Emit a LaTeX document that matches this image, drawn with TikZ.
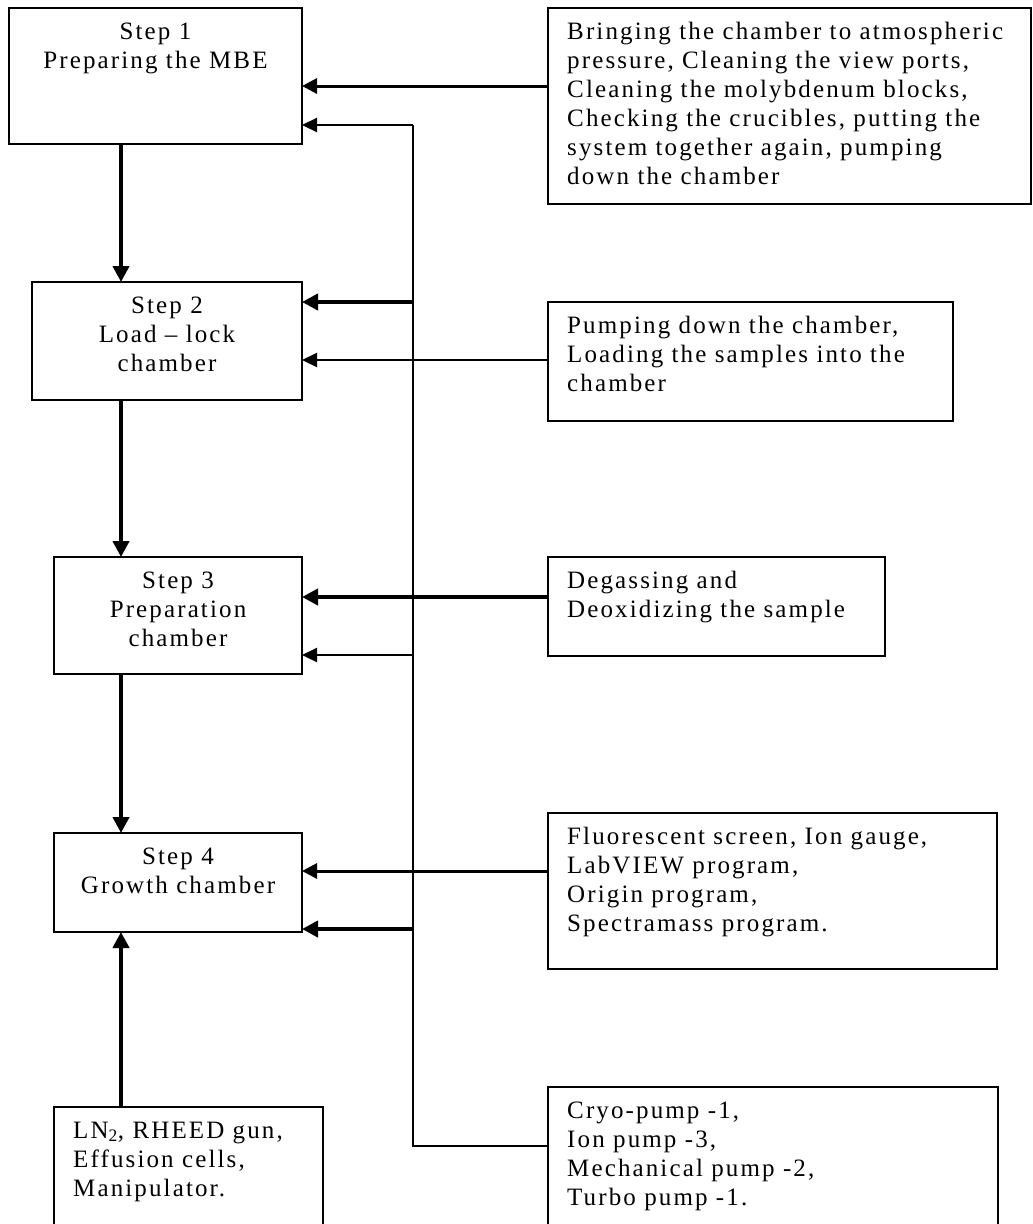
\documentclass[tikz,border=0pt]{standalone}
\usepackage{fontspec}
\setmainfont{Liberation Serif}[LetterSpace=8.5]
\usetikzlibrary{arrows.meta}

% strut that fixes the height of the first text line
\newcommand\fstrut{\rule{0pt}{18pt}}

\begin{document}
\begin{tikzpicture}[x=1pt,y=-1pt,
  box/.style={draw, line width=1.6pt, outer sep=0pt, inner sep=0pt, anchor=north west},
  txt/.style={inner sep=0pt, font=\fontsize{25}{29}\selectfont},
  ltxt/.style={txt, anchor=north west, align=left},
  ctxt/.style={txt, anchor=north, align=center},
  heavy/.style={line width=4pt, -{Triangle[length=16pt,width=16pt]}},
  medium/.style={line width=3pt, -{Triangle[length=15pt,width=15pt]}},
  light/.style={line width=2.2pt, -{Triangle[length=15pt,width=14pt]}},
  wire/.style={line width=2pt}
]
\useasboundingbox (0,0) rectangle (1033,1224);
\fill[white] (0,0) rectangle (1033,1224);
\clip (0,0) rectangle (1033,1224);

% step boxes
\node[box, minimum width=293pt, minimum height=136pt] (s1) at (9,8) {};
\node[box, minimum width=270pt, minimum height=118pt] (s2) at (32,282) {};
\node[box, minimum width=248pt, minimum height=117pt] (s3) at (54,557) {};
\node[box, minimum width=248pt, minimum height=99pt]  (s4) at (54,833) {};
\node[box, minimum width=269pt, minimum height=150pt] (s5) at (54,1107) {};

% description boxes
\node[box, minimum width=483pt, minimum height=196pt] (r1) at (548,8) {};
\node[box, minimum width=405pt, minimum height=119pt] (r2) at (548,302) {};
\node[box, minimum width=337pt, minimum height=99pt]  (r3) at (548,557) {};
\node[box, minimum width=449pt, minimum height=156pt] (r4) at (548,813) {};
\node[box, minimum width=450pt, minimum height=160pt] (r5) at (548,1087) {};

% step labels
\node[ctxt] (t1) at ([yshift=-13pt]s1.north) {\fstrut Step 1\\Preparing the MBE};
\node[ctxt] (t2) at ([yshift=-13pt]s2.north) {\fstrut Step 2\\Load – lock\\chamber};
\node[ctxt] (t3) at ([yshift=-13pt]s3.north) {\fstrut Step 3\\Preparation\\chamber};
\node[ctxt] (t4) at ([yshift=-13pt]s4.north) {\fstrut Step 4\\Growth chamber};
\node[ltxt] (t5) at ([xshift=19pt,yshift=-13pt]s5.north west)
  {\fstrut LN\textsubscript{2}, RHEED gun,\\Effusion cells,\\Manipulator.};

% description texts
\node[ltxt] (u1) at ([xshift=19pt,yshift=-13pt]r1.north west)
  {\fstrut Bringing the chamber to atmospheric\\pressure, Cleaning the view ports,\\Cleaning the molybdenum blocks,\\Checking the crucibles, putting the\\system together again, pumping\\down the chamber};
\node[ltxt] (u2) at ([xshift=19pt,yshift=-13pt]r2.north west)
  {\fstrut Pumping down the chamber,\\Loading the samples into the\\chamber};
\node[ltxt] (u3) at ([xshift=19pt,yshift=-13pt]r3.north west)
  {\fstrut Degassing and\\Deoxidizing the sample};
\node[ltxt] (u4) at ([xshift=19pt,yshift=-13pt]r4.north west)
  {\fstrut Fluorescent screen, Ion gauge,\\LabVIEW program,\\Origin program,\\Spectramass program.};
\node[ltxt] (u5) at ([xshift=19pt,yshift=-13pt]r5.north west)
  {\fstrut Cryo-pump -1,\\Ion pump -3,\\Mechanical pump -2,\\Turbo pump -1.};

% reference columns and levels for the connectors
\coordinate (col) at (121,0);
\coordinate (bus) at (413,0);
\coordinate (y1a) at (0,86);
\coordinate (y1b) at (0,125);
\coordinate (y2a) at (0,302);
\coordinate (y2b) at (0,360);
\coordinate (y3a) at (0,597);
\coordinate (y3b) at (0,655);
\coordinate (y4a) at (0,871);
\coordinate (y4b) at (0,929);
\coordinate (y5)  at (0,1146);

% main sequence
\draw[heavy] (s1.south -| col) -- (s2.north -| col);
\draw[heavy] (s2.south -| col) -- (s3.north -| col);
\draw[heavy] (s3.south -| col) -- (s4.north -| col);
\draw[heavy] (s5.north -| col) -- (s4.south -| col);

% pump bus feeding every step
\draw[wire] (bus |- y1b) -- (bus |- y5) -- (r5.west |- y5);
\draw[light] (bus |- y1b) -- (s1.east |- y1b);
\draw[heavy] (bus |- y2a) -- (s2.east |- y2a);
\draw[light] (bus |- y3b) -- (s3.east |- y3b);
\draw[heavy] (bus |- y4b) -- (s4.east |- y4b);

% descriptions into the steps
\draw[medium] (r1.west |- y1a) -- (s1.east |- y1a);
\draw[light] (r2.west |- y2b) -- (s2.east |- y2b);
\draw[heavy] (r3.west |- y3a) -- (s3.east |- y3a);
\draw[medium] (r4.west |- y4a) -- (s4.east |- y4a);
\end{tikzpicture}
\end{document}
